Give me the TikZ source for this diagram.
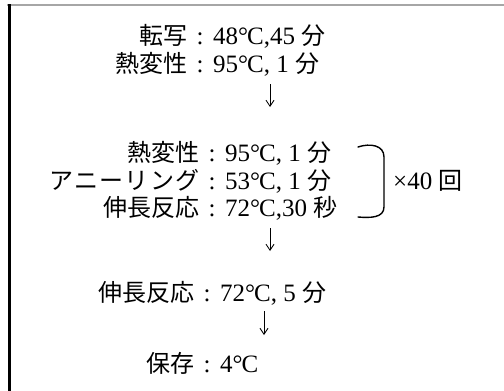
\documentclass[tikz,border=0pt]{standalone}
\usepackage{fontspec}
\setmainfont{Liberation Serif}
\newfontfamily\jp{Noto Sans CJK JP}
\newfontfamily\jpwide[LetterSpace=6]{Noto Sans CJK JP}
\usetikzlibrary{arrows.meta}
\newcommand{\dgc}{°\kern-1ptC}
\newcommand{\jc}[1]{{\jp\fontsize{24}{24}\selectfont #1}}
\begin{document}
\begin{tikzpicture}[x=1pt,y=-1pt,
  txt/.style={inner sep=0pt,font=\fontsize{25}{25}\selectfont},
  lab/.style={txt,anchor=base east,font=\fontsize{24}{24}\selectfont\jp},
  col/.style={txt,anchor=base},
  val/.style={txt,anchor=base west},
  flow/.style={line width=0.9pt,-{Straight Barb[length=6pt,width=8pt,line width=0.9pt]}},
  bracket/.style={line width=1.4pt,line cap=round},
  border/.style={line width=3pt,black},
  topborder/.style={line width=2pt,gray!70}]
\useasboundingbox (0,0) rectangle (504,391);
\draw[topborder] (7,5) -- (504,5);
\draw[border] (9.5,4) -- (9.5,391);
% rows 1-2
\node[lab] (l1) at (188,44) {転写};
\node[col] (c1) at (200,44) {:};
\node[val] (v1) at (213,44) {48\dgc,45 \jc{分}};
\node[lab] (l2) at (188,72) {熱変性};
\node[col] (c2) at (200,72) {:};
\node[val] (v2) at (213,72) {95\dgc, 1 \jc{分}};
\coordinate (a1s) at (270,84);
\coordinate (a1e) at (270,107);
\draw[flow] (a1s) -- (a1e);
% rows 3-5
\node[lab] (l3) at (200,161) {熱変性};
\node[col] (c3) at (212,161) {:};
\node[val] (v3) at (225,161) {95\dgc, 1 \jc{分}};
\node[lab,font=\fontsize{24}{24}\selectfont\jpwide] (l4) at (200,189) {アニーリング};
\node[col] (c4) at (212,189) {:};
\node[val] (v4) at (225,189) {53\dgc, 1 \jc{分}};
\node[lab] (l5) at (200,216) {伸長反応};
\node[col] (c5) at (212,216) {:};
\node[val] (v5) at (225,216) {72\dgc,30 \jc{秒}};
\coordinate (a2s) at (270,228);
\coordinate (a2e) at (270,251);
\draw[flow] (a2s) -- (a2e);
% rows 6-7
\node[lab] (l6) at (195,301) {伸長反応};
\node[col] (c6) at (207,301) {:};
\node[val] (v6) at (220,301) {72\dgc, 5 \jc{分}};
\coordinate (a3s) at (264,311);
\coordinate (a3e) at (264,335);
\draw[flow] (a3s) -- (a3e);
\node[lab] (l7) at (195,372) {保存};
\node[col] (c7) at (207,372) {:};
\node[val] (v7) at (220,372) {4\dgc};
% bracket
\coordinate (bt) at (358,147);
\coordinate (bb) at (358,217);
\draw[bracket] (bt) .. controls (370,143) and (384,145) .. (384,157) -- (384,207) .. controls (384,218) and (370,218) .. (bb);
\node[val] (rep) at (393,189) {×40 \jc{回}};
\end{tikzpicture}
\end{document}
